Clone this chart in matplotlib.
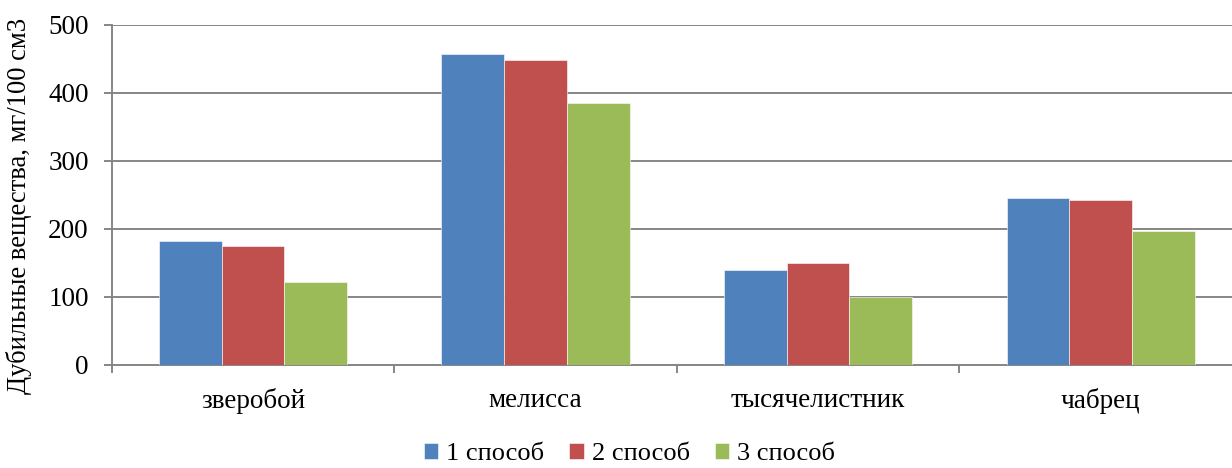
import matplotlib
matplotlib.use("Agg")
import matplotlib.pyplot as plt
import numpy as np

# data
plants = ["зверобой", "мелисса", "тысячелистник", "чабрец"]
series_names = ["1 способ", "2 способ", "3 способ"]
method_1 = [182, 457, 140, 245]
method_2 = [174, 448, 149, 242]
method_3 = [121, 385, 100, 196]
y_ticks = [0, 100, 200, 300, 400, 500]

colors = ["#4F81BD", "#C0504D", "#9BBB59"]
grid_color = "#868686"

plt.rcParams["font.family"] = ["Liberation Serif", "DejaVu Serif"]

fig = plt.figure(figsize=(12.32, 4.68), dpi=100)
ax = fig.add_axes([0.0907, 0.2207, 0.9173, 0.7265])

x = np.arange(len(plants))
width = 0.222
for i, (values, name, color) in enumerate(zip([method_1, method_2, method_3], series_names, colors)):
    ax.bar(x + (i - 1) * width, values, width, color=color, label=name,
           edgecolor="white", linewidth=0.4, zorder=3)

# axes and grid
ax.set_xlim(-0.5, len(plants) - 0.5)
ax.set_ylim(0, 500)
ax.set_yticks(y_ticks)
ax.yaxis.grid(True, color=grid_color, linewidth=1.4, zorder=1)
for side in ["top", "right"]:
    ax.spines[side].set_visible(False)
for side in ["left", "bottom"]:
    ax.spines[side].set_color(grid_color)
    ax.spines[side].set_linewidth(1.4)

# category boundaries as major ticks, names on minor ticks
ax.set_xticks(np.arange(-0.5, len(plants), 1.0))
ax.set_xticklabels([])
ax.set_xticks(x, minor=True)
ax.set_xticklabels(plants, minor=True)
ax.tick_params(axis="x", which="major", length=6, width=1.4, color=grid_color)
ax.tick_params(axis="x", which="minor", length=0, pad=17, labelsize=19.5)
ax.tick_params(axis="y", length=5.5, width=1.4, color=grid_color, pad=11, labelsize=19.5)

ax.set_ylabel("Дубильные вещества, мг/100 см3", fontsize=19.2)
ax.yaxis.set_label_coords(-0.071, 0.468)

# legend
fig.legend(loc="lower center", bbox_to_anchor=(0.511, -0.045), ncol=3, frameon=False,
           fontsize=19, handlelength=0.55, handleheight=0.55, handletextpad=0.3,
           columnspacing=0.95)

fig.savefig("out.png", dpi=100)
